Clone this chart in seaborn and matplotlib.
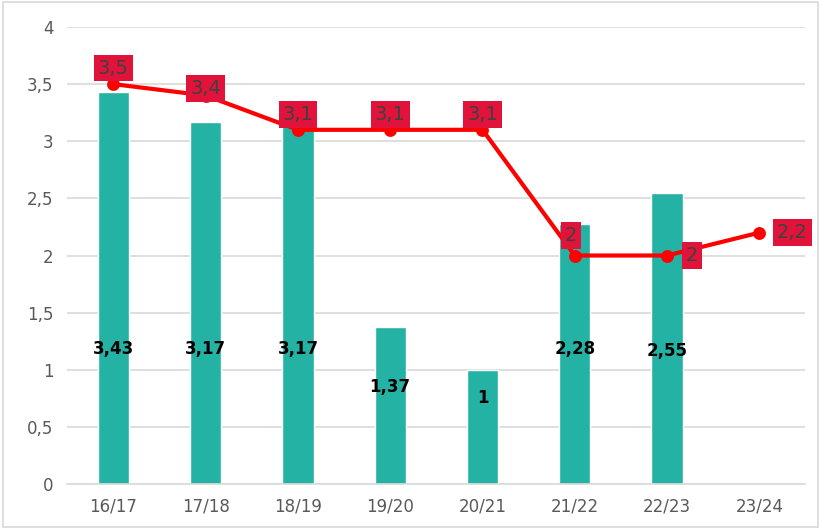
import seaborn as sns
import pandas as pd
import matplotlib.pyplot as plt
from matplotlib.patches import Rectangle

seasons = ['16/17', '17/18', '18/19', '19/20', '20/21', '21/22', '22/23', '23/24']
bar_values = [3.43, 3.17, 3.17, 1.37, 1.0, 2.28, 2.55, None]
line_values = [3.5, 3.4, 3.1, 3.1, 3.1, 2.0, 2.0, 2.2]

# where the value labels sit (data y for bars, offset in px for the line)
bar_label_y = [1.18, 1.18, 1.18, 0.85, 0.75, 1.18, 1.16, None]
line_label_off = [(0, 16), (0, 7), (0, 15), (0, 15), (0, 15), (-4, 20), (25, 0), (33, 0)]

df = pd.DataFrame({'season': seasons, 'bar': bar_values, 'line': line_values})


def fmt(v):
    return ('%g' % v).replace('.', ',')


sns.set_style('white')
plt.rcParams['font.family'] = ['DejaVu Sans']

fig = plt.figure(figsize=(8.21, 5.29), dpi=100)
ax = fig.add_axes([0.082, 0.085, 0.899, 0.864])

sns.barplot(data=df, x='season', y='bar', color='#23B2A3', saturation=1,
            width=0.34, ax=ax, zorder=2)
sns.pointplot(data=df, x='season', y='line', color='#FF0000', markers='o',
              linewidth=3, markersize=7, ax=ax, zorder=4)

for i, (v, ly) in enumerate(zip(bar_values, bar_label_y)):
    if v is None:
        continue
    ax.text(i, ly, fmt(v), ha='center', va='center', fontsize=12,
            fontweight='bold', color='black', zorder=5)

for i, (v, off) in enumerate(zip(line_values, line_label_off)):
    ax.annotate(fmt(v), (i, v), xytext=off, textcoords='offset pixels',
                ha='center', va='center', fontsize=14, color='#404040',
                zorder=6,
                bbox=dict(boxstyle='square,pad=0.2', fc='#E2133A', ec='none'))

ax.set_ylim(0, 4)
ax.set_xlim(-0.5, 7.5)
ax.set_yticks([0, 0.5, 1, 1.5, 2, 2.5, 3, 3.5, 4])
ax.set_yticklabels([fmt(t) for t in ax.get_yticks()])
ax.yaxis.grid(True, color='#D9D9D9', linewidth=1.2, zorder=0)
ax.set_axisbelow(True)
ax.set_xlabel('')
ax.set_ylabel('')
ax.tick_params(axis='both', length=0, labelsize=12, labelcolor='#595959', pad=10)
for s in ['top', 'right', 'left']:
    ax.spines[s].set_visible(False)
ax.spines['bottom'].set_color('#D9D9D9')
ax.spines['bottom'].set_linewidth(1.2)

fig.patches.append(Rectangle((0.004, 0.004), 0.992, 0.992, transform=fig.transFigure,
                             fill=False, ec='#D9D9D9', lw=1.2))

fig.savefig('out.png', dpi=100)
